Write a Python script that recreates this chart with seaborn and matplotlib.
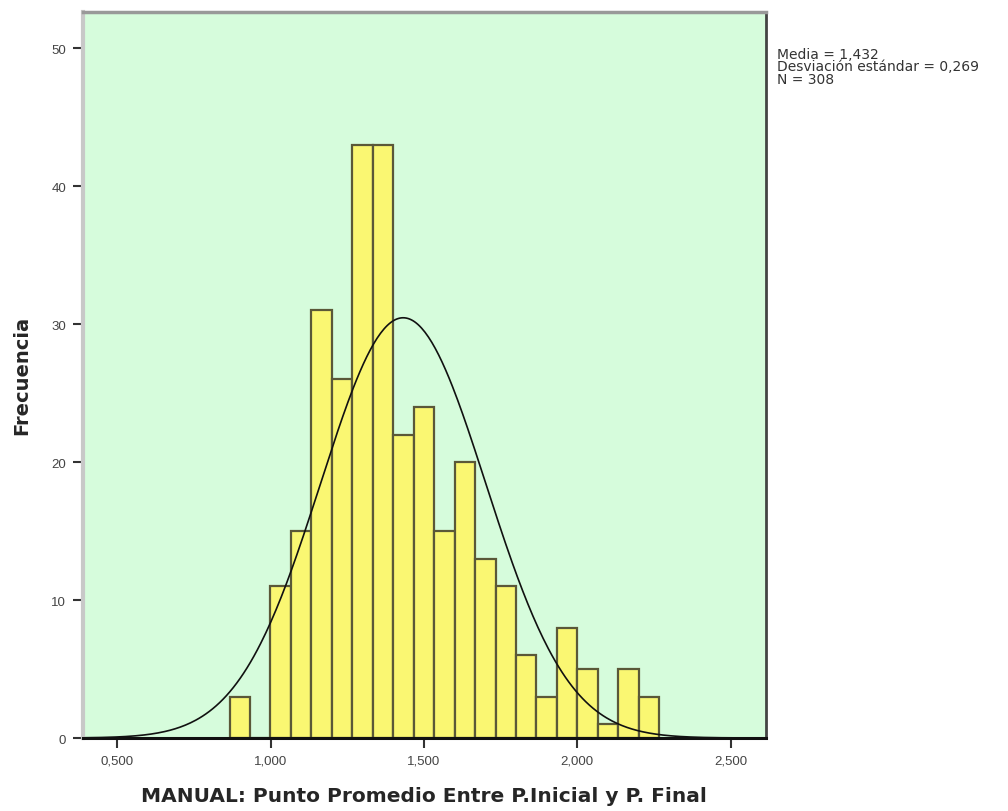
import numpy as np
import pandas as pd
import matplotlib
matplotlib.use('Agg')
import matplotlib.pyplot as plt
import seaborn as sns

# --- data ---
bin_start = 0.866          # left edge of the first bin
bin_width = 0.0667
counts = [3, 0, 11, 15, 31, 26, 43, 43, 22, 24, 15, 20, 13, 11, 6, 3, 8, 5, 1, 5, 3]

media = 1.432
desv = 0.269
n_total = 308

x_ticks = [0.5, 1.0, 1.5, 2.0, 2.5]
y_ticks = [0, 10, 20, 30, 40, 50]

edges = [bin_start + bin_width * i for i in range(len(counts) + 1)]
centers = [(a + b) / 2 for a, b in zip(edges[:-1], edges[1:])]
df = pd.DataFrame({'valor': centers, 'frecuencia': counts})

sns.set_style('white')
plt.rcParams['font.family'] = ['Liberation Sans', 'DejaVu Sans']

fig = plt.figure(figsize=(10.08, 8.12), dpi=100)
ax = fig.add_axes([0.082, 0.0899, 0.6776, 0.8945])
ax.set_facecolor('#d6fcdc')

sns.histplot(data=df, x='valor', weights='frecuencia', bins=edges, ax=ax,
             color='#faf772', alpha=1, edgecolor='#5a5838', linewidth=1.6)

# normal curve scaled to the counts
xs = np.linspace(0.387, 2.614, 400)
ys = n_total * bin_width * np.exp(-0.5 * ((xs - media) / desv) ** 2) / (desv * np.sqrt(2 * np.pi))
sns.lineplot(x=xs, y=ys, color='#111111', linewidth=1.2, ax=ax)

ax.set_xlim(0.387, 2.614)
ax.set_ylim(0, 52.66)
ax.set_xticks(x_ticks)
ax.set_xticklabels([f'{v:.3f}'.replace('.', ',') for v in x_ticks])
ax.set_yticks(y_ticks)
ax.tick_params(axis='both', which='major', bottom=True, left=True, direction='out',
               length=7, width=1.5, colors='#333333',
               labelsize=9.5, labelcolor='#444444', pad=5)

ax.spines['bottom'].set_color('#111111')
ax.spines['bottom'].set_linewidth(2.2)
ax.spines['left'].set_color('#c8c8c8')
ax.spines['left'].set_linewidth(3)
ax.spines['top'].set_color('#999999')
ax.spines['top'].set_linewidth(2.5)
ax.spines['right'].set_color('#444444')
ax.spines['right'].set_linewidth(2)

ax.set_xlabel('MANUAL: Punto Promedio Entre P.Inicial y P. Final',
              fontsize=14.5, fontweight='bold', labelpad=14, family='DejaVu Sans')
ax.set_ylabel('Frecuencia', fontsize=14, fontweight='bold', labelpad=14,
              family='DejaVu Sans')

fig.text(0.771, 0.941,
         f'Media = {media:.3f}'.replace('.', ',') + '\n'
         + f'Desviación estándar = {desv:.3f}'.replace('.', ',') + '\n'
         + f'N = {n_total}',
         fontsize=10, color='#333333', va='top', ha='left', linespacing=0.85,
         family='DejaVu Sans')

fig.savefig('out.png', dpi=100)
